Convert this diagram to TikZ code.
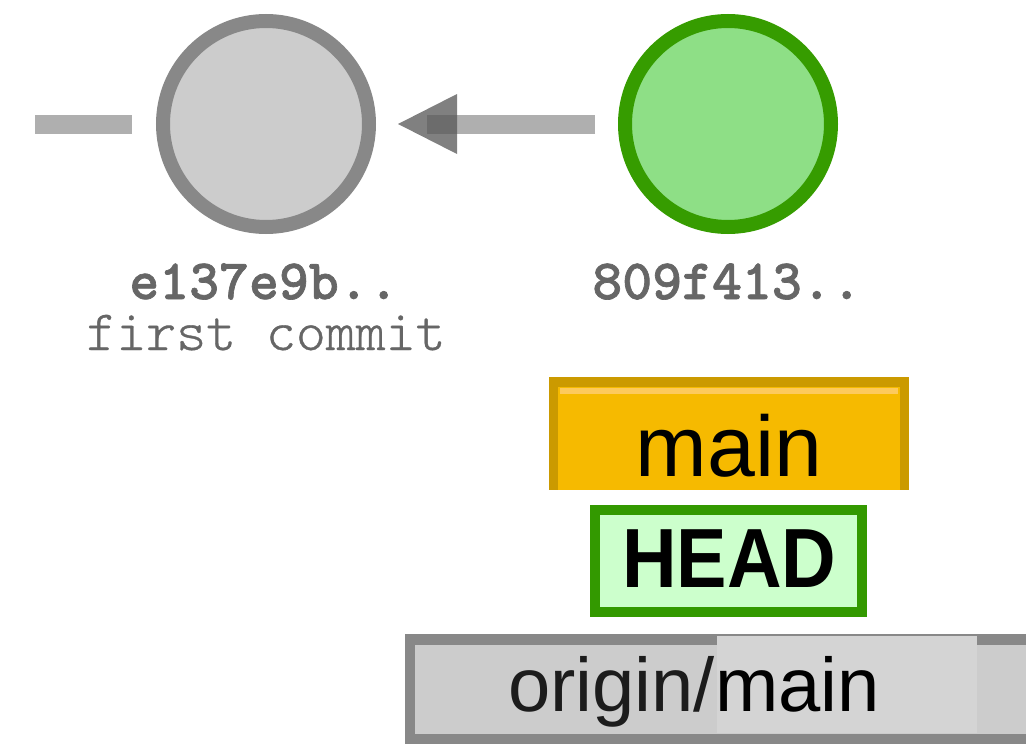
\documentclass[tikz,border=0pt]{standalone}
\usepackage{fontspec}
\setmainfont{Liberation Sans}
\newfontfamily\hashfont[FakeBold=1.2]{lmmonolt10-bold.otf}
\newfontfamily\msgfont[FakeBold=0.6]{lmmonolt10-regular.otf}
\usetikzlibrary{calc}

\definecolor{commitgray}{HTML}{CCCCCC}
\definecolor{commitgrayline}{HTML}{888888}
\definecolor{commitgreen}{HTML}{8EDF86}
\definecolor{commitgreenline}{HTML}{369C00}
\definecolor{shaftgray}{HTML}{AFAFAF}
\definecolor{headgray}{HTML}{565656}
\definecolor{labelgray}{HTML}{666666}
\definecolor{branchfill}{HTML}{F6BA00}
\definecolor{branchline}{HTML}{CB9A00}
\definecolor{branchshine}{HTML}{FDCA5C}
\definecolor{headfill}{HTML}{CCFFCC}
\definecolor{headline}{HTML}{339900}
\definecolor{remotefill}{HTML}{CCCCCC}
\definecolor{remoteline}{HTML}{888888}
\definecolor{remoteshine}{HTML}{D4D4D4}

\tikzset{
  commit/.style={circle, minimum size=206pt, inner sep=0pt, outer sep=7pt, line width=14pt},
  oldcommit/.style={commit, draw=commitgrayline, fill=commitgray},
  newcommit/.style={commit, draw=commitgreenline, fill=commitgreen},
  shaft/.style={draw=shaftgray, line width=19pt, line cap=butt},
  tiphead/.style={fill=headgray, fill opacity=0.75},
  hashlabel/.style={anchor=base, text=labelgray, inner sep=0pt,
    font=\hashfont\fontsize{57}{62}\selectfont},
  msglabel/.style={anchor=base, text=labelgray, inner sep=0pt,
    font=\msgfont\fontsize{57}{62}\selectfont},
  reftext/.style={anchor=base, inner sep=0pt, text=black},
}

\begin{document}
\begin{tikzpicture}[x=1pt, y=-1pt]
  \useasboundingbox (0,0) rectangle (1026,744);
  \clip (0,0) rectangle (1026,744);

  % commits
  \node[oldcommit] (c1) at (266,124) {};
  \node[newcommit] (c2) at (728,124) {};
  \coordinate (prev) at (35,124);

  % parent links
  \draw[shaft, shorten <=24pt] (c1.west) -- (prev);
  \draw[shaft, shorten <=23pt, shorten >=51pt] (c2.west) -- (c1.east);
  \fill[tiphead] ($(c1.east)+(22,0)$) -- ++(59,-30) -- ++(0,60) -- cycle;

  % commit labels
  \node[hashlabel] (h1) at (264,299) {e137e9b..};
  \node[msglabel]  (m1) at (266,350) {first commit};
  \node[hashlabel] (h2) at (727,299) {809f413..};

  % branch: main
  \fill[branchline] (549,377) rectangle (909,490);
  \fill[branchfill] (558,387) rectangle (900,490);
  \fill[branchshine] (560,388) rectangle (898,394);
  \node[reftext, font=\fontsize{86}{90}\selectfont] (mainlabel) at (729,476) {main};

  % HEAD
  \fill[headline] (590,505) rectangle (867,617);
  \fill[headfill] (600,515) rectangle (857,607);
  \node[reftext, font=\bfseries\fontsize{84}{90}\selectfont] (headlabel) at (729.5,587) {\scalebox{0.9}[1]{HEAD}};

  % remote branch: origin/main
  \fill[remoteline] (405,634) rectangle (1040,744);
  \fill[remotefill] (415,645) rectangle (1040,734);
  \fill[remoteshine] (717,636) rectangle (977,733);
  \node[reftext, font=\fontsize{76}{80}\selectfont] (remotelabel) at (694,711)
    {\textcolor[HTML]{1C1C1C}{origin/}main};
\end{tikzpicture}
\end{document}
